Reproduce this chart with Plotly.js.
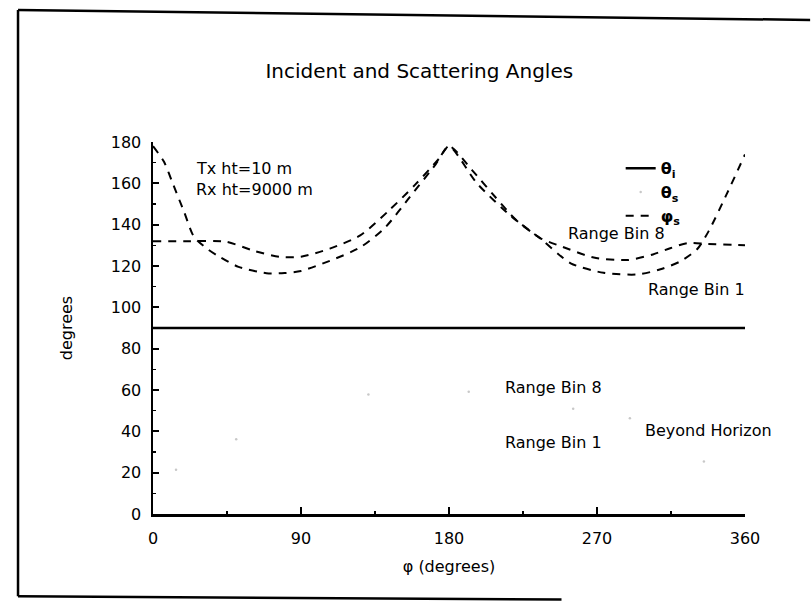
<!DOCTYPE html>
<html>
<head>
<meta charset="utf-8">
<script src="https://cdn.plot.ly/plotly-3.0.1.min.js"></script>
<style>html,body{margin:0;padding:0;background:#fff;}#chart{width:811px;height:605px;}</style>
</head>
<body>
<div id="chart"></div>
<script>
// Azimuth phi (degrees) and angles (degrees)
const thetaI_phi = [0, 90, 180, 270, 360];
const thetaI_val = [90, 90, 90, 90, 90];

const phiS_bin1_phi = [0, 6.7, 12, 19, 25, 33.5, 41, 52, 69, 80, 90, 107.5, 126, 141, 156, 172, 180, 194, 208, 220.5, 236, 254, 274, 294.6, 308.6, 320.8, 331, 338, 349, 360];
const phiS_bin1_val = [178, 170.4, 160, 146, 134, 128, 124.2, 119.6, 116.5, 116.6, 117.6, 122.5, 129, 138.5, 153.2, 169.3, 178, 166.4, 153.5, 142.5, 133, 121.3, 116.7, 115.9, 118.4, 122.3, 128.2, 137, 155, 174];

const phiS_bin8_phi = [0, 20, 44, 62, 77, 90, 107.5, 126, 143, 159, 174, 180, 197, 217.5, 235.7, 248, 268, 288.6, 304, 314.5, 325, 337, 360];
const phiS_bin8_val = [132, 132, 131.8, 127.2, 124.4, 124.5, 128.4, 134.8, 146.5, 159, 172, 178, 160, 144.3, 133.4, 129.6, 124.1, 122.9, 125.6, 128.6, 131.1, 130.7, 130];

const thetaS_phi = [14, 50.6, 131, 192, 255.5, 290, 335];
const thetaS_val = [21.4, 36.2, 57.8, 59.1, 50.9, 46.3, 25.4];

const xTicks = [0, 90, 180, 270, 360];
const yTicks = [0, 20, 40, 60, 80, 100, 120, 140, 160, 180];

const FONT = "DejaVu Sans, Liberation Sans, sans-serif";
const dashStyle = "8px,7px";

const traces = [
  {x: thetaI_phi, y: thetaI_val, mode: "lines", name: "<b>θ<sub>i</sub></b>",
   line: {color: "#000", width: 2.5}, hoverinfo: "skip"},
  {x: thetaS_phi, y: thetaS_val, mode: "markers", name: "<b>θ<sub>s</sub></b>",
   marker: {color: "#c8c8c8", size: 2.5}, hoverinfo: "skip"},
  {x: phiS_bin8_phi, y: phiS_bin8_val, mode: "lines", name: "<b>φ<sub>s</sub></b>",
   line: {color: "#000", width: 2, dash: dashStyle, shape: "spline", smoothing: 0.7}, hoverinfo: "skip"},
  {x: phiS_bin1_phi, y: phiS_bin1_val, mode: "lines", name: "φs Range Bin 1", showlegend: false,
   line: {color: "#000", width: 2, dash: dashStyle, shape: "spline", smoothing: 0.7}, hoverinfo: "skip"}
];

function ann(text, x, y) {
  return {text: text, x: x, y: y, xref: "x", yref: "y", xanchor: "left", yanchor: "middle",
          showarrow: false, font: {family: FONT, size: 16, color: "#000"}};
}

const layout = {
  width: 811, height: 605,
  margin: {l: 153, r: 66, t: 142, b: 91, pad: 0},
  paper_bgcolor: "#fff", plot_bgcolor: "#fff",
  font: {family: FONT, size: 16, color: "#000"},
  title: {text: "Incident and Scattering Angles", font: {family: FONT, size: 20, color: "#000"},
          x: 0.517, xanchor: "center", xref: "container", y: 0.883, yanchor: "middle", yref: "container"},
  xaxis: {range: [0, 360], tickvals: xTicks, ticktext: xTicks.map(String),
          showline: true, linecolor: "#000", linewidth: 2.5, showgrid: false, zeroline: false,
          ticks: "inside", ticklen: 7, tickwidth: 2, tickcolor: "#000", ticklabelstandoff: 8,
          minor: {dtick: 45, tick0: 0, ticks: "inside", ticklen: 3, tickwidth: 1.5, tickcolor: "#000", showgrid: false},
          tickfont: {family: FONT, size: 16, color: "#000"},
          title: {text: "φ (degrees)", font: {family: FONT, size: 16, color: "#000"}, standoff: 14},
          fixedrange: true},
  yaxis: {range: [0, 180], tickvals: yTicks, ticktext: yTicks.map(String),
          showline: true, linecolor: "#000", linewidth: 2.5, showgrid: false, zeroline: false,
          ticks: "inside", ticklen: 6, tickwidth: 2, tickcolor: "#000", ticklabelstandoff: 6,
          minor: {dtick: 10, tick0: 0, ticks: "inside", ticklen: 3, tickwidth: 1.5, tickcolor: "#000", showgrid: false},
          tickfont: {family: FONT, size: 16, color: "#000"},
          title: {text: "degrees", font: {family: FONT, size: 16, color: "#000"}, standoff: 34},
          fixedrange: true},
  showlegend: true,
  legend: {x: 0.79, xanchor: "left", y: 0.975, yanchor: "top", bgcolor: "rgba(0,0,0,0)",
           borderwidth: 0, font: {family: FONT, size: 16, color: "#000"}, tracegroupgap: 0},
  annotations: [
    ann("Tx ht=10 m", 25, 167.4),
    ann("Rx ht=9000 m", 25, 157.2),
    ann("Range Bin 8", 251, 135.5),
    ann("Range Bin 1", 300, 108.4),
    ann("Range Bin 8", 213, 61),
    ann("Range Bin 1", 213, 34.8),
    ann("Beyond Horizon", 298, 40.6)
  ],
  shapes: [
    // scanned figure frame: left, top, bottom edges
    {type: "line", xref: "paper", yref: "paper", x0: -0.228, x1: -0.228, y0: -0.221, y1: 1.355, line: {color: "#000", width: 2.5}},
    {type: "line", xref: "paper", yref: "paper", x0: -0.228, x1: 1.11, y0: 1.355, y1: 1.328, line: {color: "#000", width: 2.5}},
    {type: "line", xref: "paper", yref: "paper", x0: -0.228, x1: 0.69, y0: -0.221, y1: -0.230, line: {color: "#000", width: 2.5}}
  ]
};

Plotly.newPlot("chart", traces, layout, {displayModeBar: false, staticPlot: true});
</script>
</body>
</html>
